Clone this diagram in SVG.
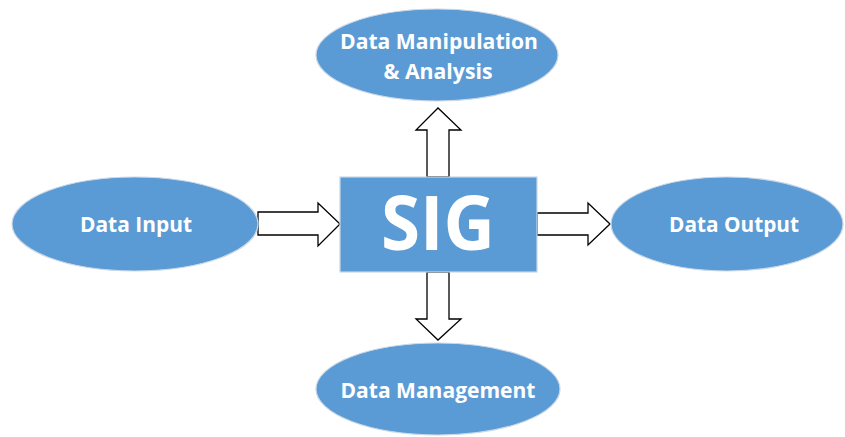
<svg xmlns="http://www.w3.org/2000/svg" width="845" height="437" viewBox="0 0 845 437">
<style>
.node{fill:#5B9BD5;stroke:#C9D7E6;stroke-width:1.2}
.lbl{font-family:"Open Sans","Liberation Sans",Arial,sans-serif;font-weight:bold;font-size:21px;fill:#ffffff;text-anchor:middle}
.big{font-family:"Open Sans","Liberation Sans",Arial,sans-serif;font-weight:bold;font-size:76px;fill:#ffffff;text-anchor:middle}
.arr{fill:#ffffff;stroke:#000000;stroke-width:1.3;stroke-linejoin:miter}
</style>
<rect width="845" height="437" fill="#ffffff"/>
<g id="connectors">
<polygon class="arr" points="258,212 318,212 318,203 340,224 318,246 318,235 258,235"/>
<polygon class="arr" points="537,213 588,213 588,203 610,224 588,245 588,235 537,235"/>
<polygon class="arr" points="427,177 427,130 416,130 438,108 461,130 449,130 449,177"/>
<polygon class="arr" points="427,272 427,319 416,319 438,340 461,319 449,319 449,272"/>
</g>
<g id="sig">
<rect class="node" x="340" y="177" width="197" height="95"/>
<text class="big" x="438" y="250" textLength="114" lengthAdjust="spacingAndGlyphs">SIG</text>
</g>
<g id="data-manipulation">
<ellipse class="node" cx="437" cy="55" rx="121" ry="46"/>
<text class="lbl" x="439" y="49" textLength="198" lengthAdjust="spacingAndGlyphs">Data Manipulation</text>
<text class="lbl" x="438" y="79" textLength="109" lengthAdjust="spacingAndGlyphs">&amp; Analysis</text>
</g>
<g id="data-input">
<ellipse class="node" cx="135" cy="224" rx="123" ry="47"/>
<text class="lbl" x="136" y="232" textLength="112" lengthAdjust="spacingAndGlyphs">Data Input</text>
</g>
<g id="data-output">
<ellipse class="node" cx="727" cy="224" rx="116" ry="47"/>
<text class="lbl" x="734" y="232" textLength="130" lengthAdjust="spacingAndGlyphs">Data Output</text>
</g>
<g id="data-management">
<ellipse class="node" cx="438" cy="389" rx="122" ry="46"/>
<text class="lbl" x="438" y="398" textLength="195" lengthAdjust="spacingAndGlyphs">Data Management</text>
</g>
</svg>
